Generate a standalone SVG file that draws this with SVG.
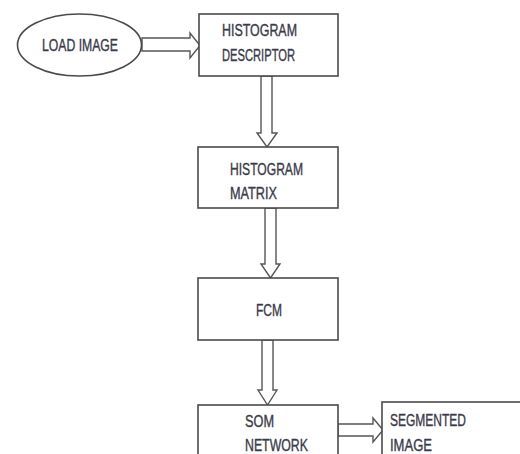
<svg xmlns="http://www.w3.org/2000/svg" width="520" height="454" viewBox="0 0 520 454">
<style>
.n{fill:#fff;stroke:#4a4a4a;stroke-width:1.6}
.a{fill:#fff;stroke:#555;stroke-width:1.4;stroke-linejoin:miter}
text{font-family:"Liberation Sans",Arial,sans-serif;font-size:16px;fill:#3a3a4a;stroke:#3a3a4a;stroke-width:0.35}
</style>
<rect width="520" height="454" fill="#fff"/>
<g id="connectors">
<polygon class="a" points="142,38 190,38 190,33 200,45.5 190,58 190,51 142,51"/>
<polygon class="a" points="261,76 272,76 272,133 277,133 267,147 257,133 261,133"/>
<polygon class="a" points="265,208 276,208 276,264 280,264 270.5,278 261,264 265,264"/>
<polygon class="a" points="262,340 273,340 273,390 277,390 267.5,405 258,390 262,390"/>
<polygon class="a" points="338,424 373,424 373,418 383,430 373,442 373,436 338,436"/>
</g>
<g id="load-image">
<ellipse class="n" cx="79.5" cy="45" rx="62" ry="31"/>
<text x="42" y="51" textLength="76" lengthAdjust="spacingAndGlyphs">LOAD IMAGE</text>
</g>
<g id="histogram-descriptor">
<rect class="n" x="199" y="14" width="139" height="62"/>
<text x="222" y="36" textLength="75" lengthAdjust="spacingAndGlyphs">HISTOGRAM</text>
<text x="222" y="61" textLength="73" lengthAdjust="spacingAndGlyphs">DESCRIPTOR</text>
</g>
<g id="histogram-matrix">
<rect class="n" x="198" y="147" width="140" height="61"/>
<text x="230" y="175" textLength="73" lengthAdjust="spacingAndGlyphs">HISTOGRAM</text>
<text x="230" y="199" textLength="47" lengthAdjust="spacingAndGlyphs">MATRIX</text>
</g>
<g id="fcm">
<rect class="n" x="198" y="278" width="140" height="62"/>
<text x="256" y="316" textLength="26" lengthAdjust="spacingAndGlyphs">FCM</text>
</g>
<g id="som-network">
<rect class="n" x="198" y="405" width="140" height="60"/>
<text x="245" y="427" textLength="29" lengthAdjust="spacingAndGlyphs">SOM</text>
<text x="245" y="451" textLength="63" lengthAdjust="spacingAndGlyphs">NETWORK</text>
</g>
<g id="segmented-image">
<rect class="n" x="382" y="402" width="150" height="60"/>
<text x="390" y="426" textLength="76" lengthAdjust="spacingAndGlyphs">SEGMENTED</text>
<text x="390" y="451" textLength="42" lengthAdjust="spacingAndGlyphs">IMAGE</text>
</g>
</svg>
